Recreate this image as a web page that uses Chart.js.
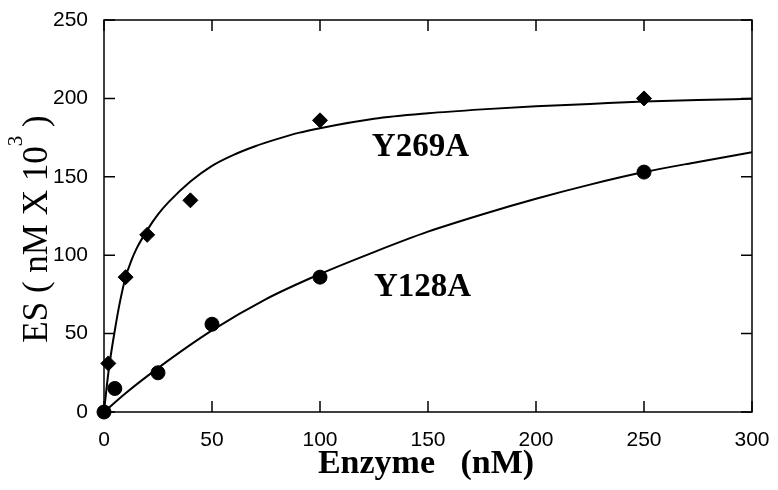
<!DOCTYPE html>
<html>
<head>
<meta charset="utf-8">
<title>ES vs Enzyme</title>
<script src="https://cdn.jsdelivr.net/npm/chart.js@4"></script>
<style>
    body { margin: 0; background: #fff; }
    #wrap { width: 778px; height: 490px; }
</style>
</head>
<body>
<div id="wrap"><canvas id="esChart" width="778" height="490"></canvas></div>
<script>
// Axis ticks
const xTicks = [0, 50, 100, 150, 200, 250, 300];
const yTicks = [0, 50, 100, 150, 200, 250];

// Measured points
const enzyme269 = [2, 10, 20, 40, 100, 250];
const es269 = [31, 86, 113, 135, 186, 200];
const enzyme128 = [0, 5, 25, 50, 100, 250];
const es128 = [0, 15, 25, 56, 86, 153];

// Fitted curves
const fitX269 = [0, 1, 2.5, 5, 7.5, 10, 12.5, 15, 20, 25, 30, 40, 50, 60, 70, 80, 90, 100, 125, 150, 175, 200, 225, 250, 275, 300];
const fitY269 = [0, 13, 30, 52, 71, 86, 96, 104, 116, 126, 134, 147, 157, 164, 169.5, 174, 178, 181, 187, 190.5, 193, 195, 196.5, 198, 199, 199.7];
const fitX128 = [0, 10, 25, 50, 75, 100, 125, 150, 175, 200, 225, 250, 275, 300];
const fitY128 = [0, 12, 28, 52, 72, 88, 102, 115, 126, 136, 145, 153, 159.5, 165.7];

// Curve labels
const seriesLabels = [
    { text: 'Y269A', x: 124, y: 163 },
    { text: 'Y128A', x: 125, y: 74 }
];

function toPoints(xs, ys) {
    return xs.map((x, i) => ({ x: x, y: ys[i] }));
}

const serif = '"Liberation Serif", "Times New Roman", serif';
const sans = '"Liberation Sans", Arial, sans-serif';

// Frame, inward tick marks and text that Chart.js can't lay out itself
const framePlugin = {
    id: 'framePlugin',
    afterDraw(chart) {
        const ctx = chart.ctx;
        const area = chart.chartArea;
        const xs = chart.scales.x;
        const ys = chart.scales.y;
        const tl = 11;

        ctx.save();
        ctx.strokeStyle = '#000';
        ctx.lineWidth = 1.5;
        ctx.strokeRect(area.left, area.top, area.right - area.left, area.bottom - area.top);

        ctx.beginPath();
        xTicks.forEach(v => {
            const px = xs.getPixelForValue(v);
            ctx.moveTo(px, area.bottom); ctx.lineTo(px, area.bottom - tl);
            ctx.moveTo(px, area.top); ctx.lineTo(px, area.top + tl);
        });
        yTicks.forEach(v => {
            const py = ys.getPixelForValue(v);
            ctx.moveTo(area.left, py); ctx.lineTo(area.left + tl, py);
            ctx.moveTo(area.right, py); ctx.lineTo(area.right - tl, py);
        });
        ctx.stroke();

        // series labels
        ctx.fillStyle = '#000';
        ctx.font = 'bold 33px ' + serif;
        ctx.textAlign = 'left';
        ctx.textBaseline = 'alphabetic';
        seriesLabels.forEach(l => {
            ctx.fillText(l.text, xs.getPixelForValue(l.x), ys.getPixelForValue(l.y));
        });

        // x title
        ctx.font = 'bold 34px ' + serif;
        ctx.textAlign = 'center';
        ctx.fillText('Enzyme   (nM)', (area.left + area.right) / 2 - 2, 473);

        // y title with superscript
        const mainFont = '35px ' + serif;
        const supFont = '21px ' + serif;
        const partA = 'ES ( nM X 10';
        const partB = '3';
        const partC = ' )';
        ctx.font = mainFont;
        const wA = ctx.measureText(partA).width;
        const wC = ctx.measureText(partC).width;
        ctx.font = supFont;
        const wB = ctx.measureText(partB).width;
        const total = wA + wB + wC;

        ctx.translate(47, 229);
        ctx.rotate(-Math.PI / 2);
        ctx.textAlign = 'left';
        let cx = -total / 2;
        ctx.font = mainFont;
        ctx.fillText(partA, cx, 0);
        cx += wA;
        ctx.font = supFont;
        ctx.fillText(partB, cx, -25);
        cx += wB;
        ctx.font = mainFont;
        ctx.fillText(partC, cx, 0);
        ctx.restore();
    }
};

// Fix axis box sizes so the plot area lands where the original has it
function fixX(scale) {
    scale.height = 78;
    scale.paddingLeft = 0;
    scale.paddingRight = 0;
}

function fixY(scale) {
    scale.width = 104;
    scale.paddingTop = 0;
    scale.paddingBottom = 0;
}

document.addEventListener('DOMContentLoaded', function() {
    const ctx = document.getElementById('esChart');

    new Chart(ctx, {
        type: 'scatter',
        data: {
            datasets: [{
                label: 'Y269A fit',
                data: toPoints(fitX269, fitY269),
                showLine: true,
                borderColor: '#000',
                borderWidth: 2,
                pointRadius: 0,
                cubicInterpolationMode: 'monotone'
            }, {
                label: 'Y128A fit',
                data: toPoints(fitX128, fitY128),
                showLine: true,
                borderColor: '#000',
                borderWidth: 2,
                pointRadius: 0,
                cubicInterpolationMode: 'monotone'
            }, {
                label: 'Y269A',
                data: toPoints(enzyme269, es269),
                pointStyle: 'rectRot',
                pointRadius: 7.5,
                backgroundColor: '#000',
                borderColor: '#000',
                clip: false
            }, {
                label: 'Y128A',
                data: toPoints(enzyme128, es128),
                pointStyle: 'circle',
                pointRadius: 7,
                backgroundColor: '#000',
                borderColor: '#000',
                clip: false
            }]
        },
        options: {
            responsive: false,
            animation: false,
            layout: {
                padding: { top: 20, right: 26, left: 0, bottom: 0 }
            },
            plugins: {
                legend: { display: false },
                tooltip: { enabled: false }
            },
            scales: {
                x: {
                    type: 'linear',
                    min: 0,
                    max: 300,
                    afterBuildTicks: scale => {
                        scale.ticks = xTicks.map(v => ({ value: v }));
                    },
                    afterFit: fixX,
                    grid: { display: false, drawTicks: false },
                    border: { display: false },
                    ticks: {
                        color: '#000',
                        padding: 16,
                        maxRotation: 0,
                        font: { family: sans, size: 21 }
                    }
                },
                y: {
                    type: 'linear',
                    min: 0,
                    max: 250,
                    afterBuildTicks: scale => {
                        scale.ticks = yTicks.map(v => ({ value: v }));
                    },
                    afterFit: fixY,
                    grid: { display: false, drawTicks: false },
                    border: { display: false },
                    ticks: {
                        color: '#000',
                        padding: 16,
                        font: { family: sans, size: 21 }
                    }
                }
            }
        },
        plugins: [framePlugin]
    });
});
</script>
</body>
</html>
